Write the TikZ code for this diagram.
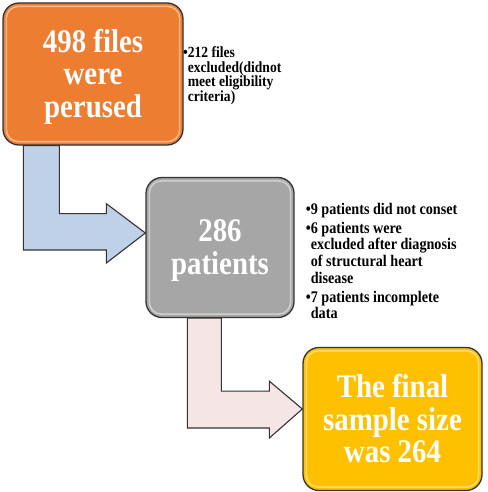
\documentclass[tikz,border=0pt]{standalone}
\usepackage{fontspec}
\setmainfont[FakeStretch=0.875]{Liberation Serif}
\usepackage{xcolor}
\usepackage{tikz}
\usetikzlibrary{positioning,calc}

\definecolor{orangebox}{HTML}{ED7D31}
\definecolor{graybox}{HTML}{A6A6A6}
\definecolor{yellowbox}{HTML}{FFC000}
\definecolor{arrowblue}{HTML}{BFD0E9}
\definecolor{arrowpink}{HTML}{F5E5E5}
\definecolor{edgegray}{HTML}{333333}

\tikzset{
  stage/.style={draw=edgegray, line width=1.3pt, rounded corners=16pt,
    text=white, font=\fontsize{33}{32.5}\selectfont\bfseries,
    align=center, inner sep=0pt},
  gloss/.style={draw=white, opacity=0.45, line width=1.6pt, rounded corners=12pt},
  bentarrow/.style={draw=edgegray, line width=1.1pt, line join=miter},
  note/.style={align=left, inner sep=0pt, font=\bfseries}
}

\begin{document}
\begin{tikzpicture}[x=1pt,y=-1pt]
  \useasboundingbox (0,0) rectangle (487,492);

  % boxes
  \node[stage, fill=orangebox, minimum width=180pt, minimum height=142pt] (files) at (93,74)
    {\rule{0pt}{28.5pt}498 files\\were\\perused};
  \node[stage, fill=graybox, minimum width=148pt, minimum height=140pt] (patients) at (220,247.5)
    {\rule{0pt}{28.5pt}286\\patients};
  \node[stage, fill=yellowbox, minimum width=179pt, minimum height=143pt] (finalsize) at (392.5,419)
    {The final\\sample size\\was 264};

  % glossy rims
  \foreach \b in {files,patients,finalsize}
    \draw[gloss] ($(\b.north west)+(4,4)$) rectangle ($(\b.south east)+(-4,-4)$);

  % bent arrows
  \coordinate (a1s) at ([xshift=21pt]files.south west);
  \coordinate (a1t) at ([yshift=14.5pt]patients.west);
  \draw[bentarrow, fill=arrowblue] (a1s) -- ++(36,0) -- ++(0,68) -- ++(47,0) -- ++(0,-10)
    -- (a1t) -- ++(-39,30) -- ++(0,-13) -- ++(-83,0) -- cycle;

  \coordinate (a2s) at ([xshift=42pt]patients.south west);
  \coordinate (a2t) at ([yshift=10pt]finalsize.west);
  \draw[bentarrow, fill=arrowpink] (a2s) -- ++(34,0) -- ++(0,73) -- ++(48,0) -- ++(0,-10)
    -- (a2t) -- ++(-33,29) -- ++(0,-10) -- ++(-82,0) -- cycle;

  % exclusion notes
  \node[note, font=\fontsize{15.5}{14.5}\selectfont\bfseries, anchor=north west]
    (excl1) at ([xshift=4pt,yshift=-44.5pt]files.north east)
    {\llap{•}212 files\\excluded(didnot\\meet eligibility\\criteria)};
  \node[note, font=\fontsize{16.2}{16.6}\selectfont\bfseries, anchor=north west]
    (excl2) at ([xshift=16pt,yshift=-26pt]patients.north east)
    {\llap{•}9 patients did not conset\\[2.4pt]
     \llap{•}6 patients were\\excluded after diagnosis\\of structural heart\\disease\\[2.4pt]
     \llap{•}7 patients incomplete\\data};
\end{tikzpicture}
\end{document}
